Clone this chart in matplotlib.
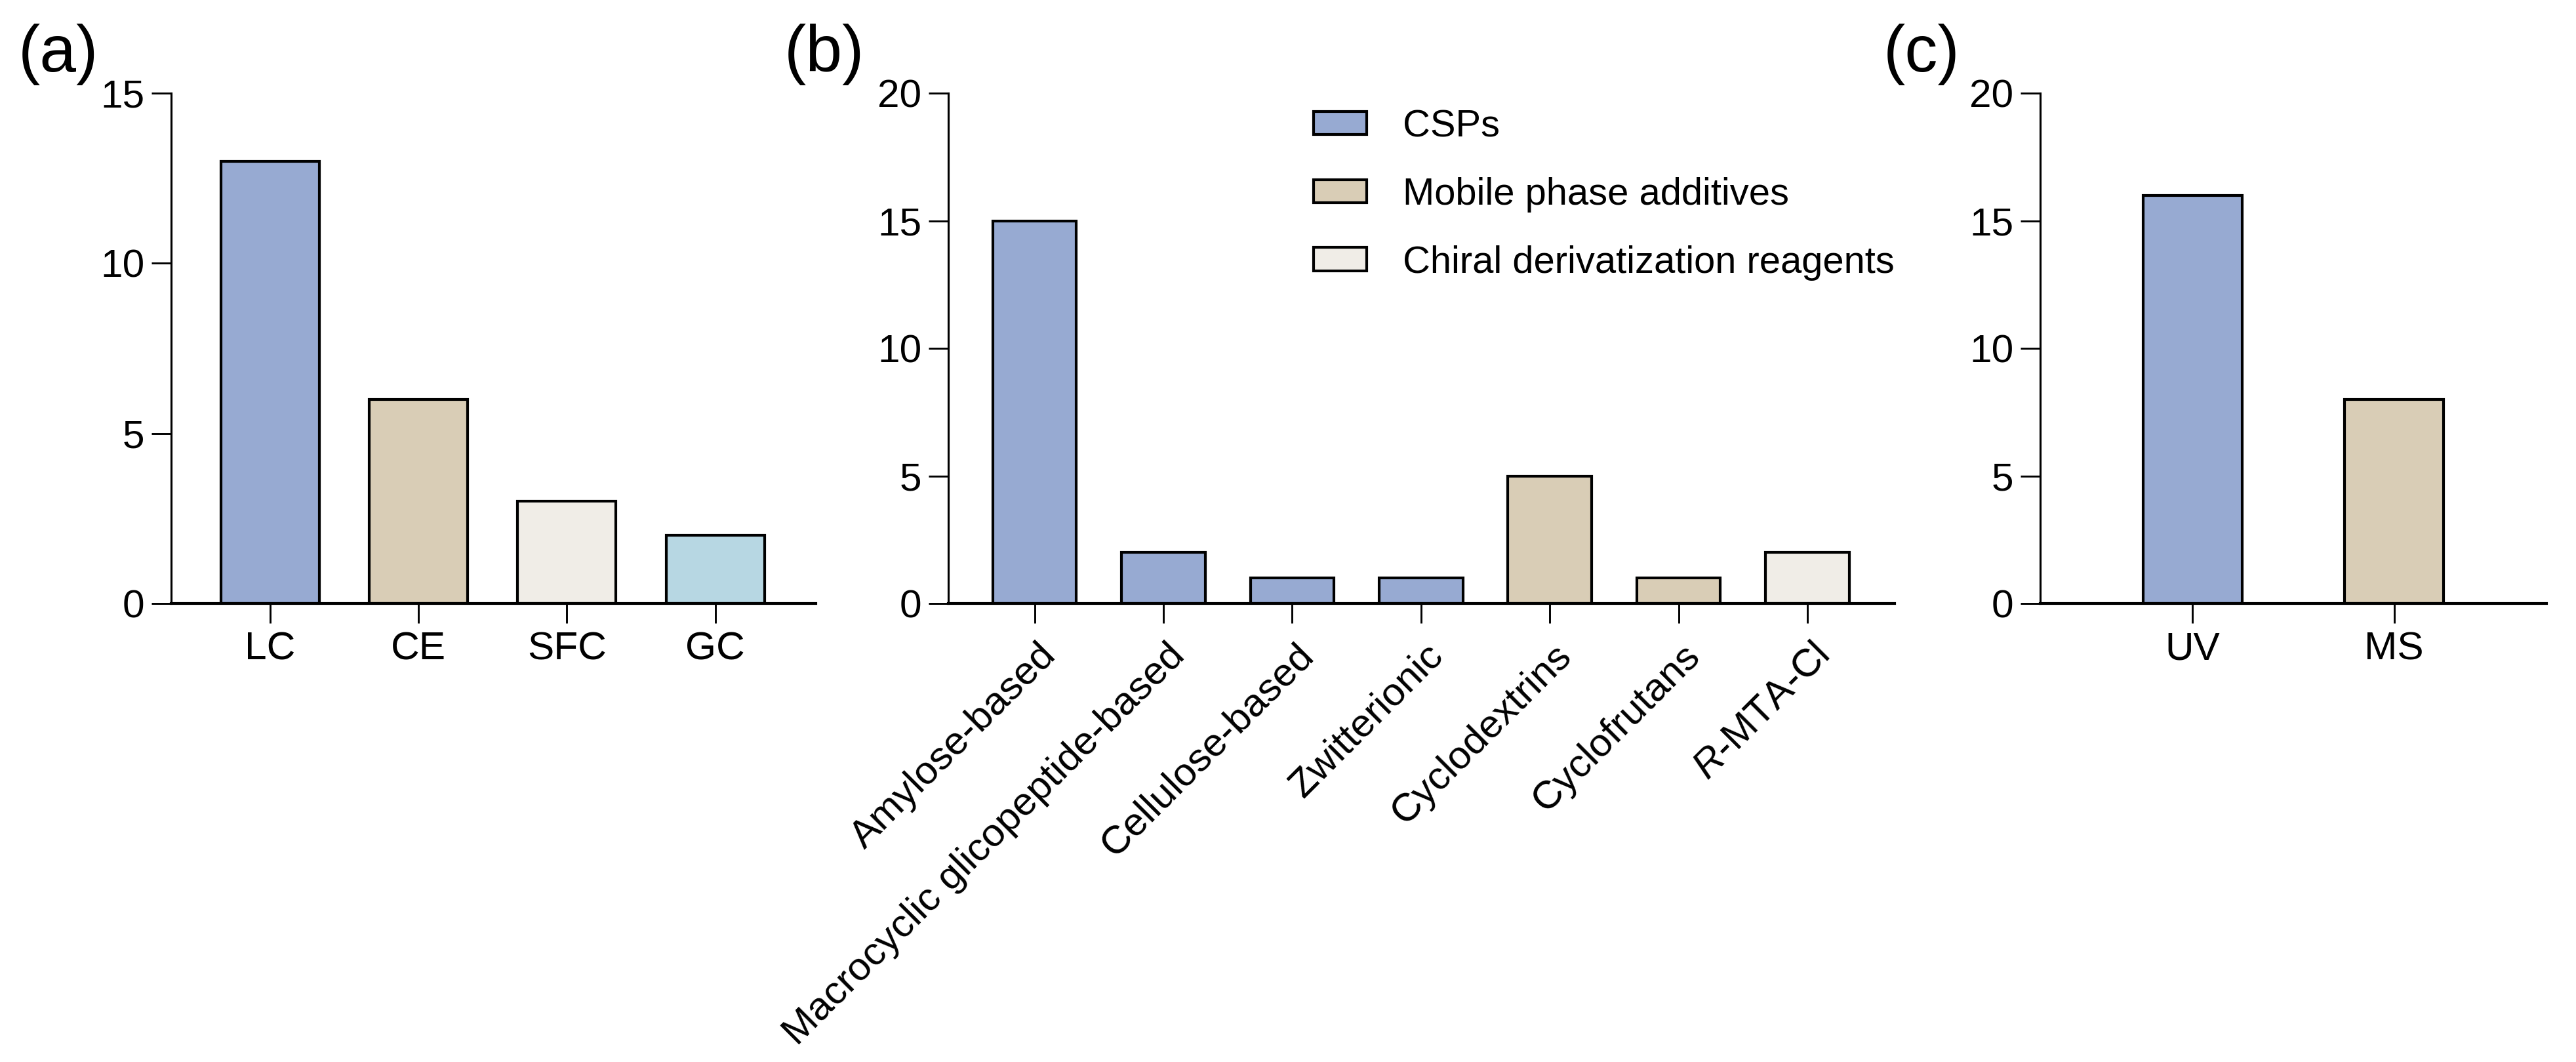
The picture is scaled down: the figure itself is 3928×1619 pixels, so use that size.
import matplotlib
matplotlib.use('Agg')
import matplotlib.pyplot as plt
import matplotlib.transforms as mtrans
from matplotlib.patches import Patch

plt.rcParams['font.family'] = ['Liberation Sans', 'DejaVu Sans']
plt.rcParams['mathtext.fontset'] = 'custom'
plt.rcParams['mathtext.rm'] = 'Liberation Sans'
plt.rcParams['mathtext.it'] = 'Liberation Sans:italic'

# data
techniques = ['LC', 'CE', 'SFC', 'GC']
technique_counts = [13, 6, 3, 2]

selectors = ['Amylose-based', 'Macrocyclic glicopeptide-based', 'Cellulose-based',
             'Zwitterionic', 'Cyclodextrins', 'Cyclofrutans', '$\\it{R}$-MTA-Cl']
selector_counts = [15, 2, 1, 1, 5, 1, 2]
selector_group = [0, 0, 0, 0, 1, 1, 2]
group_names = ['CSPs', 'Mobile phase additives', 'Chiral derivatization reagents']

detectors = ['UV', 'MS']
detector_counts = [16, 8]

blue = '#97AAD2'
tan = '#D9CDB6'
grey = '#F0EDE7'
lblue = '#B7D7E3'
group_colors = [blue, tan, grey]

TICK_FS = 14.5


def style_axes(ax):
    for s in ['top', 'right']:
        ax.spines[s].set_visible(False)
    ax.spines['left'].set_linewidth(0.75)
    ax.spines['bottom'].set_linewidth(1.0)
    ax.tick_params(axis='y', length=7.3, width=0.7, pad=2.4, labelsize=TICK_FS)
    ax.tick_params(axis='x', length=7.3, width=0.7, pad=3.0, labelsize=TICK_FS)


fig = plt.figure(figsize=(3928 / 300, 1619 / 300), dpi=300)

bottom = 0.4317
height = 0.4806

# (a)
ax1 = fig.add_axes([0.0664, bottom, 0.2503, height])
ax1.bar(range(len(techniques)), technique_counts, width=0.663,
        color=[blue, tan, grey, lblue], edgecolor='black', linewidth=1.0)
ax1.set_xticks(range(len(techniques)))
ax1.set_xticklabels(techniques)
ax1.set_xlim(-0.668, 3.678)
ax1.set_ylim(0, 15)
ax1.set_yticks([0, 5, 10, 15])
style_axes(ax1)

# (b)
ax2 = fig.add_axes([0.3681, bottom, 0.3674, height])
ax2.bar(range(len(selectors)), selector_counts, width=0.65,
        color=[group_colors[g] for g in selector_group], edgecolor='black', linewidth=1.0)
ax2.set_xticks(range(len(selectors)))
ax2.set_xticklabels(selectors, rotation=45, ha='right', va='top', rotation_mode='anchor')
ax2.set_xlim(-0.67, 6.677)
ax2.set_ylim(0, 20)
ax2.set_yticks([0, 5, 10, 15, 20])
style_axes(ax2)
ax2.tick_params(axis='x', pad=5)
shift = mtrans.ScaledTranslation(1.2 / 72, 0, fig.dpi_scale_trans)
for t in ax2.get_xticklabels():
    t.set_transform(t.get_transform() + shift)
handles = [Patch(facecolor=c, edgecolor='black', linewidth=1.0) for c in group_colors]
ax2.legend(handles, group_names, loc='upper left', bbox_to_anchor=(0.386, 0.969),
           frameon=False, fontsize=13.9, handlelength=1.4, handleheight=0.57,
           handletextpad=0.95, labelspacing=0.86, borderpad=0, borderaxespad=0)

# (c)
ax3 = fig.add_axes([0.7920, bottom, 0.1965, height])
ax3.bar(range(len(detectors)), detector_counts, width=0.49,
        color=[blue, tan], edgecolor='black', linewidth=1.0)
ax3.set_xticks(range(len(detectors)))
ax3.set_xticklabels(detectors)
ax3.set_xlim(-0.756, 1.755)
ax3.set_ylim(0, 20)
ax3.set_yticks([0, 5, 10, 15, 20])
style_axes(ax3)

for lbl, x in [('(a)', 28), ('(b)', 1196), ('(c)', 2872)]:
    fig.text(x / 3928, 1 - 36 / 1619, lbl, fontsize=24, ha='left', va='top')

fig.savefig('out.png', dpi=300)
